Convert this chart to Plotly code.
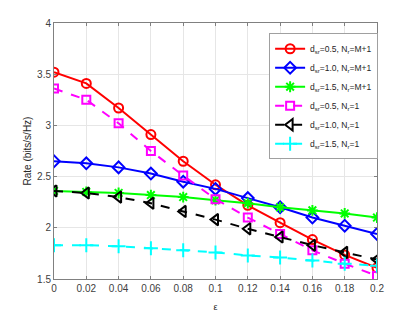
import plotly.graph_objects as go

eps = [0, 0.02, 0.04, 0.06, 0.08, 0.1, 0.12, 0.14, 0.16, 0.18, 0.2]
red = [3.52, 3.41, 3.17, 2.91, 2.65, 2.42, 2.22, 2.05, 1.885, 1.735, 1.61]
blue = [2.65, 2.63, 2.59, 2.53, 2.45, 2.38, 2.29, 2.20, 2.10, 2.02, 1.94]
green = [2.36, 2.35, 2.34, 2.32, 2.30, 2.27, 2.24, 2.20, 2.17, 2.14, 2.10]
magenta = [3.36, 3.25, 3.02, 2.75, 2.51, 2.28, 2.10, 1.94, 1.78, 1.65, 1.53]
black = [2.36, 2.34, 2.30, 2.24, 2.16, 2.08, 1.99, 1.91, 1.83, 1.76, 1.69]
cyan = [1.83, 1.83, 1.82, 1.80, 1.78, 1.76, 1.73, 1.71, 1.68, 1.65, 1.63]

names = [
    "d<sub>sr</sub>=0.5, N<sub>r</sub>=M+1",
    "d<sub>sr</sub>=1.0, N<sub>r</sub>=M+1",
    "d<sub>sr</sub>=1.5, N<sub>r</sub>=M+1",
    "d<sub>sr</sub>=0.5, N<sub>r</sub>=1",
    "d<sub>sr</sub>=1.0, N<sub>r</sub>=1",
    "d<sub>sr</sub>=1.5, N<sub>r</sub>=1",
]
xticks = [0, 0.02, 0.04, 0.06, 0.08, 0.1, 0.12, 0.14, 0.16, 0.18, 0.2]
xticklabels = ["0", "0.02", "0.04", "0.06", "0.08", "0.1", "0.12", "0.14", "0.16", "0.18", "0.2"]
yticks = [1.5, 2, 2.5, 3, 3.5, 4]
yticklabels = ["1.5", "2", "2.5", "3", "3.5", "4"]

series = [red, blue, green, magenta, black, cyan]
colors = ["#ff0000", "#0000ff", "#00ff00", "#ff00ff", "#000000", "#00ffff"]
symbols = ["circle-open", "diamond-open", "asterisk-open", "square-open", "triangle-left-open", "cross-thin-open"]
dashes = ["solid", "solid", "solid", "dash", "dash", "dash"]
sizes = [9, 9, 9, 8, 10, 10]

fig = go.Figure()
for ys, nm, c, s, d, sz in zip(series, names, colors, symbols, dashes, sizes):
    fig.add_trace(go.Scatter(
        x=eps, y=ys, name=nm, mode="lines+markers",
        line=dict(color=c, width=2, dash=d),
        marker=dict(symbol=s, size=sz, color=c, line=dict(color=c, width=2)),
    ))

fig.update_layout(
    width=415, height=313,
    margin=dict(l=54, r=38, t=23, b=34, autoexpand=False),
    paper_bgcolor="white", plot_bgcolor="white",
    font=dict(family="Liberation Sans, Arial, sans-serif", size=10, color="#262626"),
    showlegend=True,
    legend=dict(
        x=0.666, y=0.96, xanchor="left", yanchor="top",
        bgcolor="white", bordercolor="#a0a0a0", borderwidth=1,
        font=dict(size=8.5, color="#262626"),
        tracegroupgap=0, itemwidth=30,
    ),
)
fig.update_xaxes(
    range=[0, 0.2], tickvals=xticks, ticktext=xticklabels,
    showgrid=True, gridcolor="#e6e6e6", gridwidth=1,
    showline=True, linecolor="#808080", linewidth=1, mirror="ticks",
    ticks="inside", ticklen=3, tickcolor="#808080",
    zeroline=False, automargin=False,
    title=dict(text="ε", font=dict(size=9), standoff=10),
    tickfont=dict(size=10, color="#404040"),
)
fig.update_yaxes(
    range=[1.5, 4], tickvals=yticks, ticktext=yticklabels,
    showgrid=True, gridcolor="#e6e6e6", gridwidth=1,
    showline=True, linecolor="#808080", linewidth=1, mirror="ticks",
    ticks="inside", ticklen=3, tickcolor="#808080",
    zeroline=False, automargin=False,
    title=dict(text="Rate (bits/s/Hz)", font=dict(size=10), standoff=3),
    tickfont=dict(size=10, color="#404040"),
)

fig.write_html("out.html", config={"displayModeBar": False},
               post_script="document.body.style.margin='0';")
